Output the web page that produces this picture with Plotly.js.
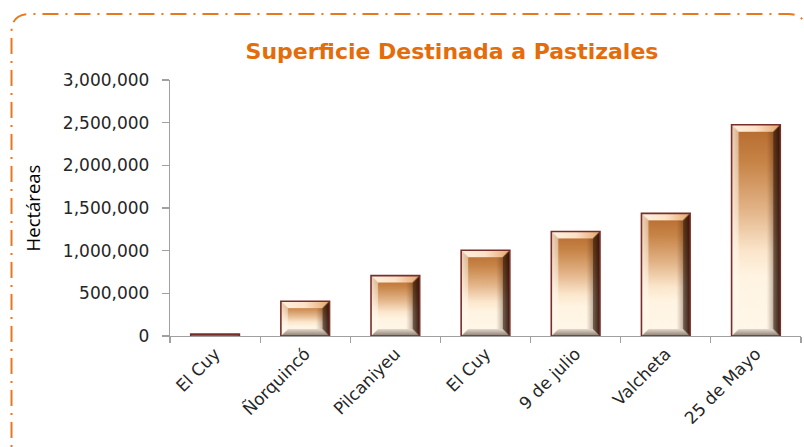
<!DOCTYPE html>
<html>
<head>
<meta charset="utf-8">
<script src="https://cdn.plot.ly/plotly-3.0.1.min.js"></script>
<style>
html,body{margin:0;padding:0;background:#fff;}
#chart{width:804px;height:447px;}
</style>
</head>
<body>
<div id="chart"></div>
<script>
// ---- data ----
var categories = ["El Cuy", "Ñorquincó", "Pilcaniyeu", "El Cuy", "9 de julio", "Valcheta", "25 de Mayo"];
var hectareas = [22000, 408000, 708000, 1005000, 1225000, 1437000, 2475000];
var yTickVals = [0, 500000, 1000000, 1500000, 2000000, 2500000, 3000000];
var chartTitle = "Superficie Destinada a Pastizales";
var yTitle = "Hectáreas";

var positions = categories.map(function (c, i) { return i; });

// plot-area geometry (pixels)
var W = 804, H = 447, L = 170, R = 3, T = 80, B = 111;
var pw = W - L - R, ph = H - T - B;
function px2x(px) { return (px - L) / pw; }
function py2y(py) { return (H - B - py) / ph; }

// rounded dash-dot frame (partly outside the window as in the reference)
var fl = 11.5, ft = 14, fr = 806, fb = 470, rad = 18;
var framePath = 'M ' + px2x(fl) + ',' + py2y(fb) +
  ' L ' + px2x(fl) + ',' + py2y(ft + rad) +
  ' Q ' + px2x(fl) + ',' + py2y(ft) + ' ' + px2x(fl + rad) + ',' + py2y(ft) +
  ' L ' + px2x(fr - rad) + ',' + py2y(ft) +
  ' Q ' + px2x(fr) + ',' + py2y(ft) + ' ' + px2x(fr) + ',' + py2y(ft + rad) +
  ' L ' + px2x(fr) + ',' + py2y(fb);

var trace = {
  type: 'bar',
  x: positions,
  y: hectareas,
  width: 0.54,
  marker: { color: '#E9B68C', line: { color: '#7A2E2A', width: 1.6 } },
  hoverinfo: 'skip'
};

var tickFont = { family: 'DejaVu Sans', size: 17, color: '#262626' };

var layout = {
  width: W, height: H,
  margin: { l: L, r: R, t: T, b: B, pad: 0 },
  paper_bgcolor: '#ffffff', plot_bgcolor: '#ffffff',
  showlegend: false,
  title: {
    text: chartTitle,
    font: { family: 'DejaVu Sans', size: 22, color: '#E46C0A', weight: 'bold' },
    xref: 'container', x: 452 / 804, xanchor: 'center',
    yref: 'container', y: 1 - 51 / 447, yanchor: 'middle'
  },
  xaxis: {
    range: [-0.5, 6.5],
    tickmode: 'array', tickvals: positions, ticktext: categories,
    ticks: '', tickangle: -45, tickfont: tickFont,
    showline: true, linecolor: '#A0A0A0', linewidth: 1.2,
    showgrid: false, zeroline: false, fixedrange: true,
    minor: { tickmode: 'linear', tick0: -0.5, dtick: 1, ticks: 'outside', ticklen: 6, tickcolor: '#A0A0A0', tickwidth: 1.2, showgrid: false }
  },
  yaxis: {
    range: [0, 3000000],
    tickmode: 'array', tickvals: yTickVals, tickformat: ',d',
    ticks: 'outside', ticklen: 7, tickcolor: '#A0A0A0', tickwidth: 1.2,
    tickfont: tickFont, ticklabelstandoff: 9,
    showline: true, linecolor: '#A0A0A0', linewidth: 1.2,
    showgrid: false, zeroline: false, fixedrange: true,
    title: { text: yTitle, font: { family: 'Open Sans', size: 18.5, color: '#000000' }, standoff: 17 }
  },
  shapes: [{
    type: 'path', xref: 'paper', yref: 'paper', path: framePath,
    line: { color: '#E8781E', width: 2, dash: '16px,7px,2px,7px' }
  }]
};

function svgEl(tag, attrs) {
  var e = document.createElementNS('http://www.w3.org/2000/svg', tag);
  for (var k in attrs) e.setAttribute(k, attrs[k]);
  return e;
}
function linGrad(defs, id, x2, y2, stops) {
  var g = svgEl('linearGradient', { id: id, x1: 0, y1: 0, x2: x2, y2: y2 });
  stops.forEach(function (s) {
    g.appendChild(svgEl('stop', { offset: s[0], 'stop-color': s[1], 'stop-opacity': s[2] === undefined ? 1 : s[2] }));
  });
  defs.appendChild(g);
}

function shadeBars(gd) {
  var svg = gd.querySelector('svg.main-svg');
  var defs = svgEl('defs', {});
  svg.insertBefore(defs, svg.firstChild);
  linGrad(defs, 'gBody', 0, 1, [[0, '#B5682C'], [0.18, '#C78447'], [0.4, '#E2B387'], [0.6, '#FBE6CC'], [0.72, '#FFF4E2'], [1, '#FFF7EA']]);
  linGrad(defs, 'gSide', 1, 0, [[0, '#FFF6EA', 0.55], [0.16, '#FFF6EA', 0.0], [0.72, '#3C1A08', 0.0], [0.88, '#3C1A08', 0.35], [1, '#1E0A02', 0.9]]);
  linGrad(defs, 'gTop', 1, 0, [[0, '#FFF1E0'], [0.5, '#FCE2C8'], [1, '#E5A66C']]);
  linGrad(defs, 'gBot', 0, 1, [[0, '#E4D8CC'], [1, '#8A7C72']]);
  var paths = gd.querySelectorAll('.barlayer .point path');
  paths.forEach(function (p, i) {
    var bb = p.getBBox();
    var w = bb.width, h = bb.height;
    if (w <= 0 || h <= 0) return;
    var b = Math.min(7, h / 3, w / 4);
    var pat = svgEl('pattern', { id: 'barPat' + i, patternUnits: 'userSpaceOnUse', x: bb.x, y: bb.y, width: w, height: h });
    pat.appendChild(svgEl('rect', { x: 0, y: 0, width: w, height: h, fill: 'url(#gBody)' }));
    pat.appendChild(svgEl('rect', { x: 0, y: 0, width: w, height: h, fill: 'url(#gSide)' }));
    pat.appendChild(svgEl('polygon', { points: [0, 0, w, 0, w - b, b, b, b].join(' '), fill: 'url(#gTop)' }));
    pat.appendChild(svgEl('polygon', { points: [0, h, w, h, w - b, h - b, b, h - b].join(' '), fill: 'url(#gBot)' }));
    pat.appendChild(svgEl('polygon', { points: [0, 0, b, b, b, h - b, 0, h].join(' '), fill: '#FFF8EE', 'fill-opacity': 0.45 }));
    pat.appendChild(svgEl('polygon', { points: [w, 0, w, h, w - b, h - b, w - b, b].join(' '), fill: '#2A1206', 'fill-opacity': 0.55 }));
    defs.appendChild(pat);
    p.style.fill = 'url(#barPat' + i + ')';
    p.style.fillOpacity = 1;
  });
}

Plotly.newPlot('chart', [trace], layout, { staticPlot: true, displayModeBar: false }).then(shadeBars);
</script>
</body>
</html>
